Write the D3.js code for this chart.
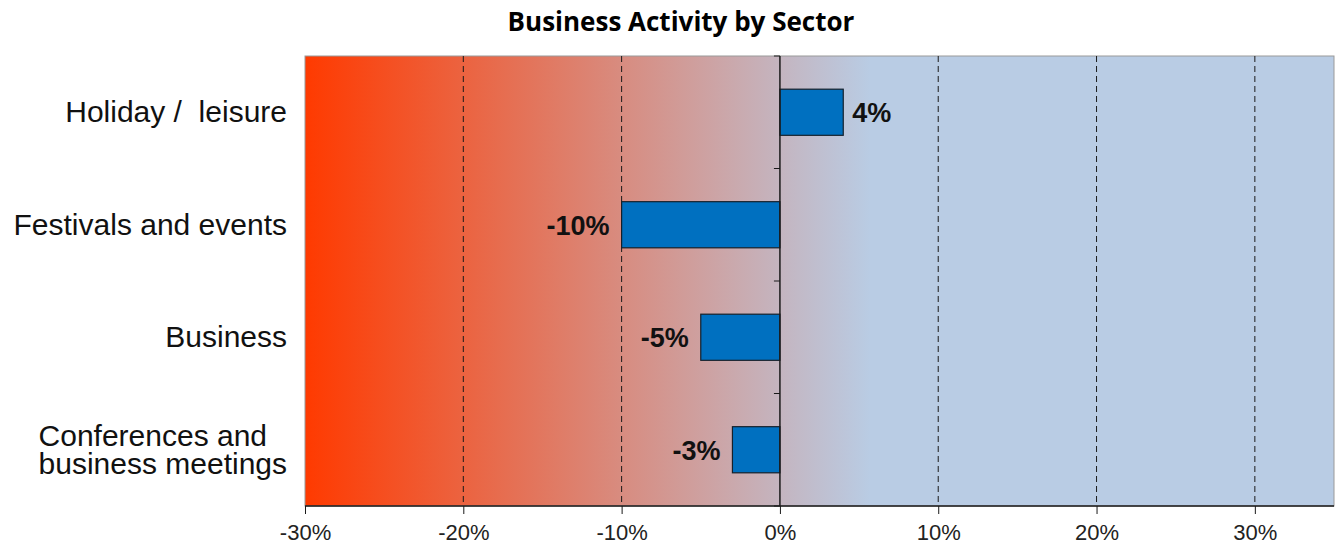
<!DOCTYPE html>
<html>
<head>
<meta charset="utf-8">
<script src="https://cdn.jsdelivr.net/npm/d3@7"></script>
<style>
  body { margin: 0; background: #fff; }
  svg text { font-family: "Liberation Sans", Arial, sans-serif; }
</style>
</head>
<body>
<div id="canvas"></div>
<script>
/* Data */
let sectors = ["Holiday /  leisure", "Festivals and events", "Business", "Conferences and\nbusiness meetings"];
let changes = [4, -10, -5, -3];
let xTicks = [-30, -20, -10, 0, 10, 20, 30];

/* Drawing config */
let svgWidth = 1337;
let svgHeight = 547;
let plot = { left: 305, right: 1334, top: 56, bottom: 506 };

let svg = d3.select("#canvas")
    .append("svg")
    .attr("width", svgWidth)
    .attr("height", svgHeight);

let xScale = d3.scaleLinear()
    .domain([-30, 35])
    .range([plot.left, plot.right]);

let yScale = d3.scaleBand()
    .domain(sectors)
    .range([plot.top, plot.bottom])
    .paddingInner(0.59)
    .paddingOuter(0.295);

// background gradient, red on the left fading into light blue past zero
let defs = svg.append("defs");
let grad = defs.append("linearGradient")
    .attr("id", "bg")
    .attr("gradientUnits", "userSpaceOnUse")
    .attr("x1", xScale(-30)).attr("x2", xScale(5.7))
    .attr("y1", 0).attr("y2", 0);
grad.append("stop").attr("offset", 0).attr("stop-color", "#ff3a00");
grad.append("stop").attr("offset", 1).attr("stop-color", "#b9cce4");

svg.append("rect")
    .attr("x", plot.left)
    .attr("y", plot.top)
    .attr("width", plot.right - plot.left)
    .attr("height", plot.bottom - plot.top)
    .attr("fill", "url(#bg)")
    .attr("stroke", "#9a9a9a")
    .attr("stroke-width", 1);

// dashed gridlines
svg.selectAll(".grid")
    .data(xTicks.filter(d => d != 0 && d != -30))
    .enter()
    .append("line")
    .attr("x1", d => xScale(d)).attr("x2", d => xScale(d))
    .attr("y1", plot.top).attr("y2", plot.bottom)
    .attr("stroke", "#1a1a1a")
    .attr("stroke-width", 1)
    .attr("stroke-dasharray", "6,4");

// bars
svg.selectAll(".bar")
    .data(sectors)
    .enter()
    .append("rect")
    .attr("x", (d, i) => xScale(Math.min(0, changes[i])))
    .attr("y", d => yScale(d))
    .attr("width", (d, i) => Math.abs(xScale(changes[i]) - xScale(0)))
    .attr("height", yScale.bandwidth())
    .attr("fill", "#0070c0")
    .attr("stroke", "#15202b")
    .attr("stroke-width", 1.2);

// zero line with small category ticks
svg.append("line")
    .attr("x1", xScale(0)).attr("x2", xScale(0))
    .attr("y1", plot.top).attr("y2", plot.bottom)
    .attr("stroke", "#1a1a1a")
    .attr("stroke-width", 1.5);

let step = yScale.step();
svg.selectAll(".ytick")
    .data(d3.range(sectors.length + 1))
    .enter()
    .append("line")
    .attr("x1", xScale(0) - 6).attr("x2", xScale(0))
    .attr("y1", i => plot.top + i * step)
    .attr("y2", i => plot.top + i * step)
    .attr("stroke", "#1a1a1a");

// x axis
let xAxis = d3.axisBottom(xScale)
    .tickValues(xTicks)
    .tickSize(8)
    .tickPadding(10)
    .tickFormat(d => d + "%");

let axisG = svg.append("g")
    .attr("transform", `translate(0, ${plot.bottom})`)
    .call(xAxis);
axisG.select(".domain").remove();
axisG.selectAll(".tick line").attr("stroke", "#1a1a1a");
axisG.selectAll(".tick text")
    .attr("font-size", 22)
    .attr("font-family", "Liberation Sans, Arial, sans-serif")
    .attr("fill", "#222");
svg.append("line")
    .attr("x1", plot.left).attr("x2", plot.right)
    .attr("y1", plot.bottom).attr("y2", plot.bottom)
    .attr("stroke", "#1a1a1a")
    .attr("stroke-width", 1.5);

// value labels
svg.selectAll(".val")
    .data(sectors)
    .enter()
    .append("text")
    .attr("x", (d, i) => changes[i] >= 0 ? xScale(changes[i]) + 9 : xScale(changes[i]) - 12)
    .attr("y", d => yScale(d) + yScale.bandwidth() / 2 + 10)
    .attr("text-anchor", (d, i) => changes[i] >= 0 ? "start" : "end")
    .attr("font-size", 27)
    .attr("font-weight", "bold")
    .attr("fill", "#111")
    .text((d, i) => changes[i] + "%");

// category labels, right aligned block, lines left aligned inside it
let labelRight = 287;
let lineH = 28;
svg.selectAll(".cat")
    .data(sectors)
    .enter()
    .append("text")
    .attr("font-size", 30)
    .attr("fill", "#111")
    .style("white-space", "pre")
    .each(function(d) {
        let lines = d.split("\n");
        let cy = yScale(d) + yScale.bandwidth() / 2;
        let t = d3.select(this);
        let spans = lines.map((s, k) => t.append("tspan")
            .attr("y", cy + 10 + (k - (lines.length - 1) / 2) * lineH)
            .text(s));
        let w = d3.max(spans, s => s.node().getComputedTextLength());
        spans.forEach(s => s.attr("x", labelRight - w));
    });

// title
svg.append("text")
    .attr("x", 681)
    .attr("y", 31)
    .attr("text-anchor", "middle")
    .style("font-family", "'Open Sans', sans-serif")
    .attr("font-size", 26)
    .attr("font-weight", "bold")
    .attr("fill", "#000")
    .text("Business Activity by Sector");
</script>
</body>
</html>
